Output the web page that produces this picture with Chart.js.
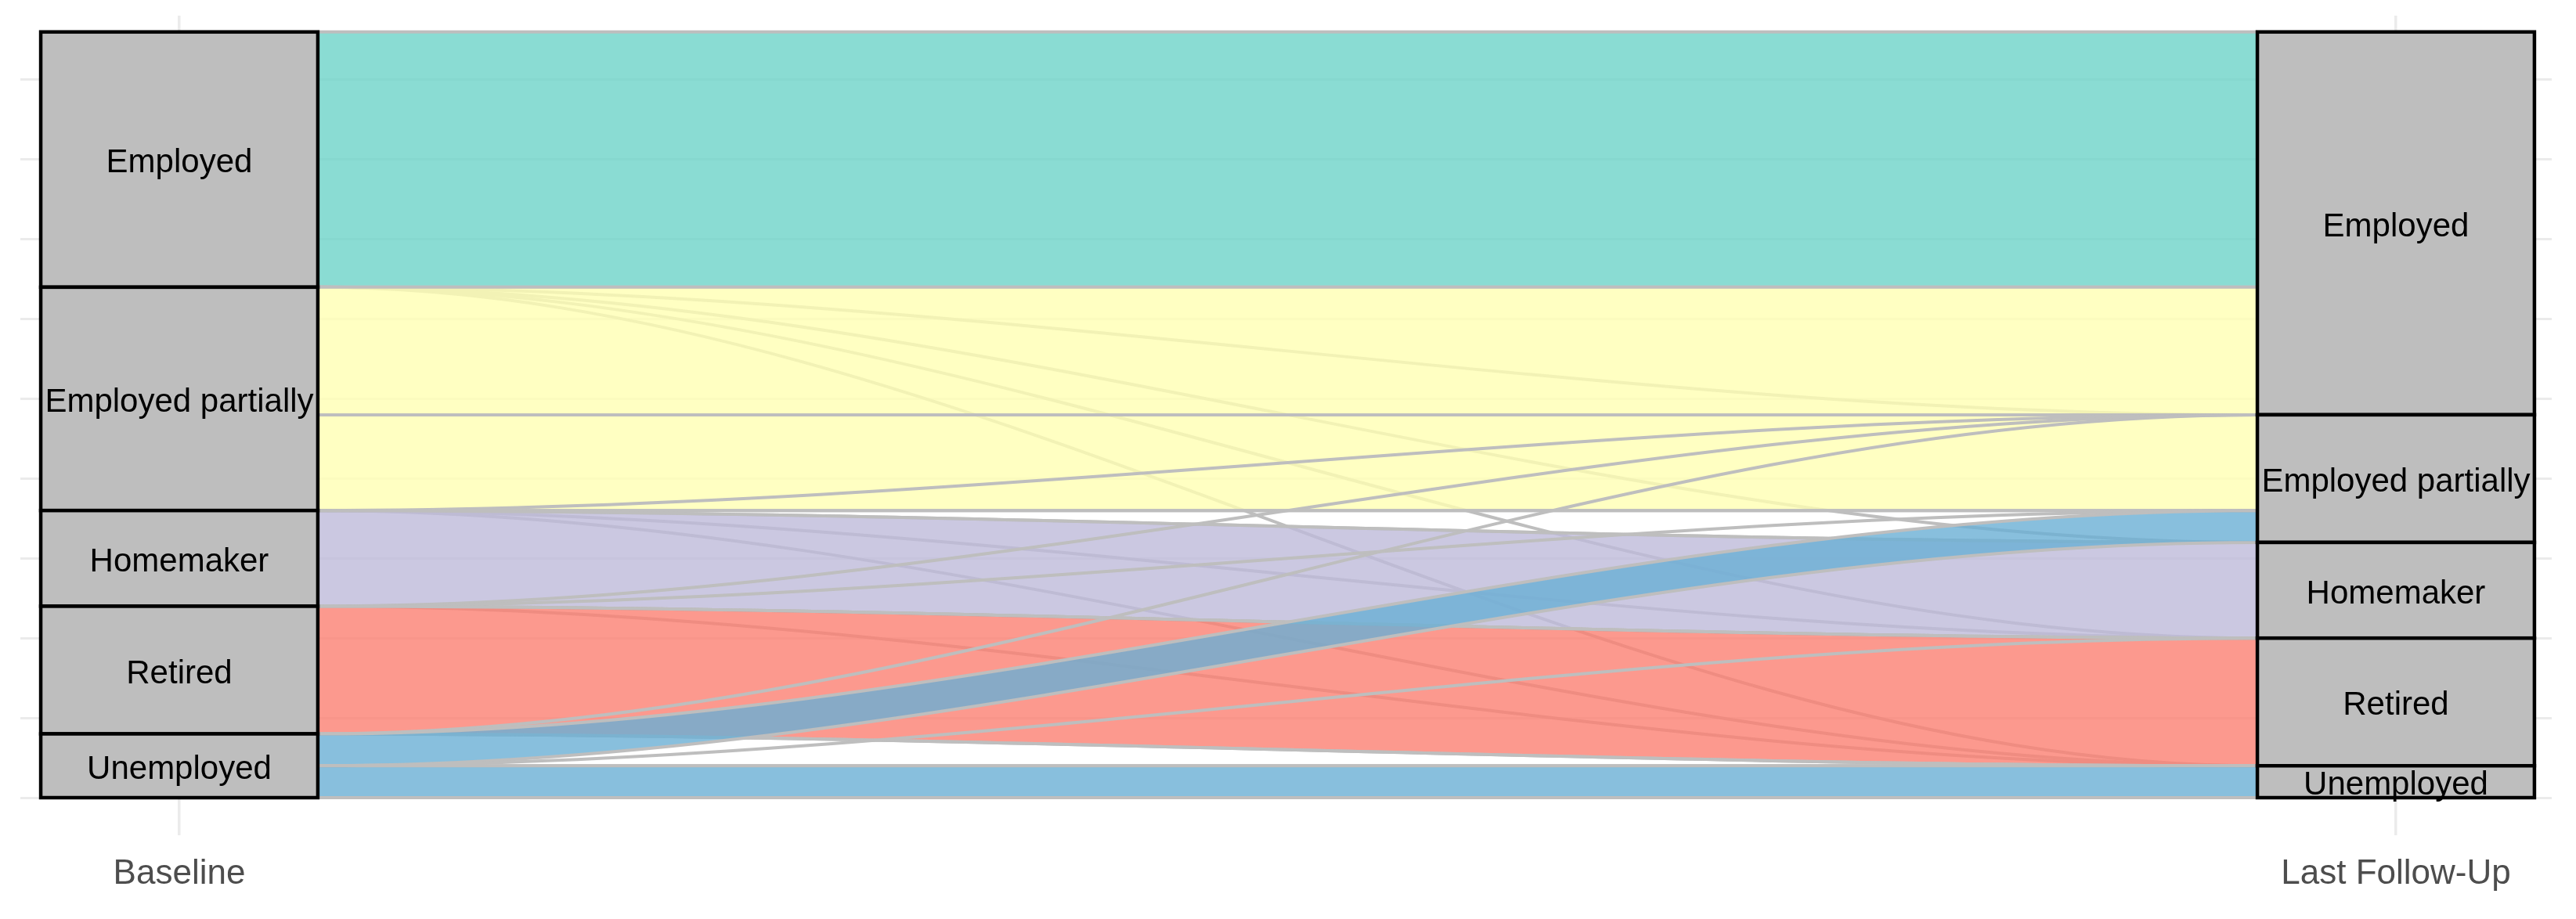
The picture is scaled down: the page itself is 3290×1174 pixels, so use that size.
<!DOCTYPE html>
<html>
<head>
<meta charset="utf-8">
<script src="https://cdn.jsdelivr.net/npm/chart.js@4"></script>
<style>
  html, body { margin: 0; padding: 0; background: #ffffff; }
  canvas { display: block; }
</style>
</head>
<body>
<canvas id="alluvialChart" width="3290" height="1174"></canvas>
<script>
// Axes (time points) and employment status categories
const timepoints = ['Baseline', 'Last Follow-Up'];
const statuses = ['Employed', 'Employed partially', 'Homemaker', 'Retired', 'Unemployed'];

// Number of people moving from each baseline status to each follow-up status
// (order of the follow-up columns is the same as `statuses`)
const fromEmployed = [32, 0, 0, 0, 0];
const fromEmployedPartially = [16, 12, 0, 0, 0];
const fromHomemaker = [0, 0, 12, 0, 0];
const fromRetired = [0, 0, 0, 16, 0];
const fromUnemployed = [0, 4, 0, 0, 4];

// Grid breaks on the (hidden) count axis
const yBreaks = [0, 10, 20, 30, 40, 50, 60, 70, 80, 90];

// Flow fill colours, one per baseline status
const flowColors = [
  'rgba(109, 211, 200, 0.8)',
  'rgba(255, 255, 179, 0.8)',
  'rgba(190, 186, 218, 0.8)',
  'rgba(251, 128, 114, 0.8)',
  'rgba(106, 175, 213, 0.8)'
];

const flows = [fromEmployed, fromEmployedPartially, fromHomemaker, fromRetired, fromUnemployed];
const STRATUM_WIDTH = 0.125;

// Draw flows, strata and stratum labels using the chart's own scales
const alluvialPlugin = {
  id: 'alluvial',
  afterDatasetsDraw(chart) {
    const { ctx, scales: { x, y } } = chart;
    const n = statuses.length;
    const half = STRATUM_WIDTH / 2;

    const leftTotals = flows.map(row => row.reduce((a, b) => a + b, 0));
    const rightTotals = statuses.map((_, j) => flows.reduce((a, row) => a + row[j], 0));
    const total = leftTotals.reduce((a, b) => a + b, 0);

    const stackTops = totals => {
      const tops = [];
      let t = total;
      totals.forEach(v => { tops.push(t); t -= v; });
      return tops;
    };
    const leftTops = stackTops(leftTotals);
    const rightTops = stackTops(rightTotals);

    const xa = x.getPixelForValue(1 + half);
    const xb = x.getPixelForValue(2 - half);
    const dx = xb - xa;

    ctx.save();
    ctx.lineJoin = 'round';

    // flows, drawn in order of baseline status
    for (let i = 0; i < n; i++) {
      for (let j = 0; j < n; j++) {
        const v = flows[i][j];
        let lt = leftTops[i];
        for (let k = 0; k < j; k++) lt -= flows[i][k];
        let rt = rightTops[j];
        for (let k = 0; k < i; k++) rt -= flows[k][j];

        const ya1 = y.getPixelForValue(lt);
        const ya2 = y.getPixelForValue(lt - v);
        const yb1 = y.getPixelForValue(rt);
        const yb2 = y.getPixelForValue(rt - v);

        ctx.beginPath();
        ctx.moveTo(xa, ya1);
        ctx.bezierCurveTo(xa + dx / 3, ya1, xb - dx / 3, yb1, xb, yb1);
        ctx.lineTo(xb, yb2);
        ctx.bezierCurveTo(xb - dx / 3, yb2, xa + dx / 3, ya2, xa, ya2);
        ctx.closePath();
        ctx.fillStyle = flowColors[i];
        ctx.fill();
        ctx.strokeStyle = '#BEBEBE';
        ctx.lineWidth = 4;
        ctx.stroke();
      }
    }

    // strata boxes
    const drawAxis = (pos, totals, tops) => {
      const x1 = x.getPixelForValue(pos - half);
      const x2 = x.getPixelForValue(pos + half);
      totals.forEach((v, s) => {
        const y1 = y.getPixelForValue(tops[s]);
        const y2 = y.getPixelForValue(tops[s] - v);
        ctx.fillStyle = '#BEBEBE';
        ctx.fillRect(x1, y1, x2 - x1, y2 - y1);
        ctx.strokeStyle = '#000000';
        ctx.lineWidth = 4.5;
        ctx.lineJoin = 'miter';
        ctx.strokeRect(x1, y1, x2 - x1, y2 - y1);
      });
      ctx.fillStyle = '#000000';
      ctx.font = '42px "Liberation Sans", Arial, sans-serif';
      ctx.textAlign = 'center';
      ctx.textBaseline = 'middle';
      totals.forEach((v, s) => {
        const yc = y.getPixelForValue(tops[s] - v / 2);
        ctx.fillText(statuses[s], x.getPixelForValue(pos), yc + 5);
      });
    };
    drawAxis(1, leftTotals, leftTops);
    drawAxis(2, rightTotals, rightTops);

    ctx.restore();
  }
};

new Chart(document.getElementById('alluvialChart'), {
  type: 'scatter',
  data: { datasets: [] },
  options: {
    responsive: false,
    devicePixelRatio: 1,
    animation: false,
    layout: { padding: { top: 20, left: 26, right: 31, bottom: 0 } },
    plugins: {
      legend: { display: false },
      tooltip: { enabled: false }
    },
    scales: {
      x: {
        type: 'linear',
        min: 0.9283,
        max: 2.0703,
        border: { display: false },
        grid: { color: '#EBEBEB', lineWidth: 3.5, drawTicks: false },
        afterBuildTicks: scale => {
          scale.ticks = timepoints.map((_, i) => ({ value: i + 1 }));
        },
        afterFit: scale => { scale.height = 107; },
        ticks: {
          padding: 23,
          color: '#4D4D4D',
          font: { family: '"Liberation Sans", Arial, sans-serif', size: 44 },
          maxRotation: 0,
          callback: value => timepoints[value - 1]
        }
      },
      y: {
        type: 'linear',
        min: -4.71,
        max: 98.04,
        border: { display: false },
        grid: { color: '#EBEBEB', lineWidth: 3, drawTicks: false },
        afterBuildTicks: scale => {
          scale.ticks = yBreaks.map(v => ({ value: v }));
        },
        afterFit: scale => { scale.width = 0; },
        ticks: { display: false }
      }
    }
  },
  plugins: [alluvialPlugin]
});
</script>
</body>
</html>
